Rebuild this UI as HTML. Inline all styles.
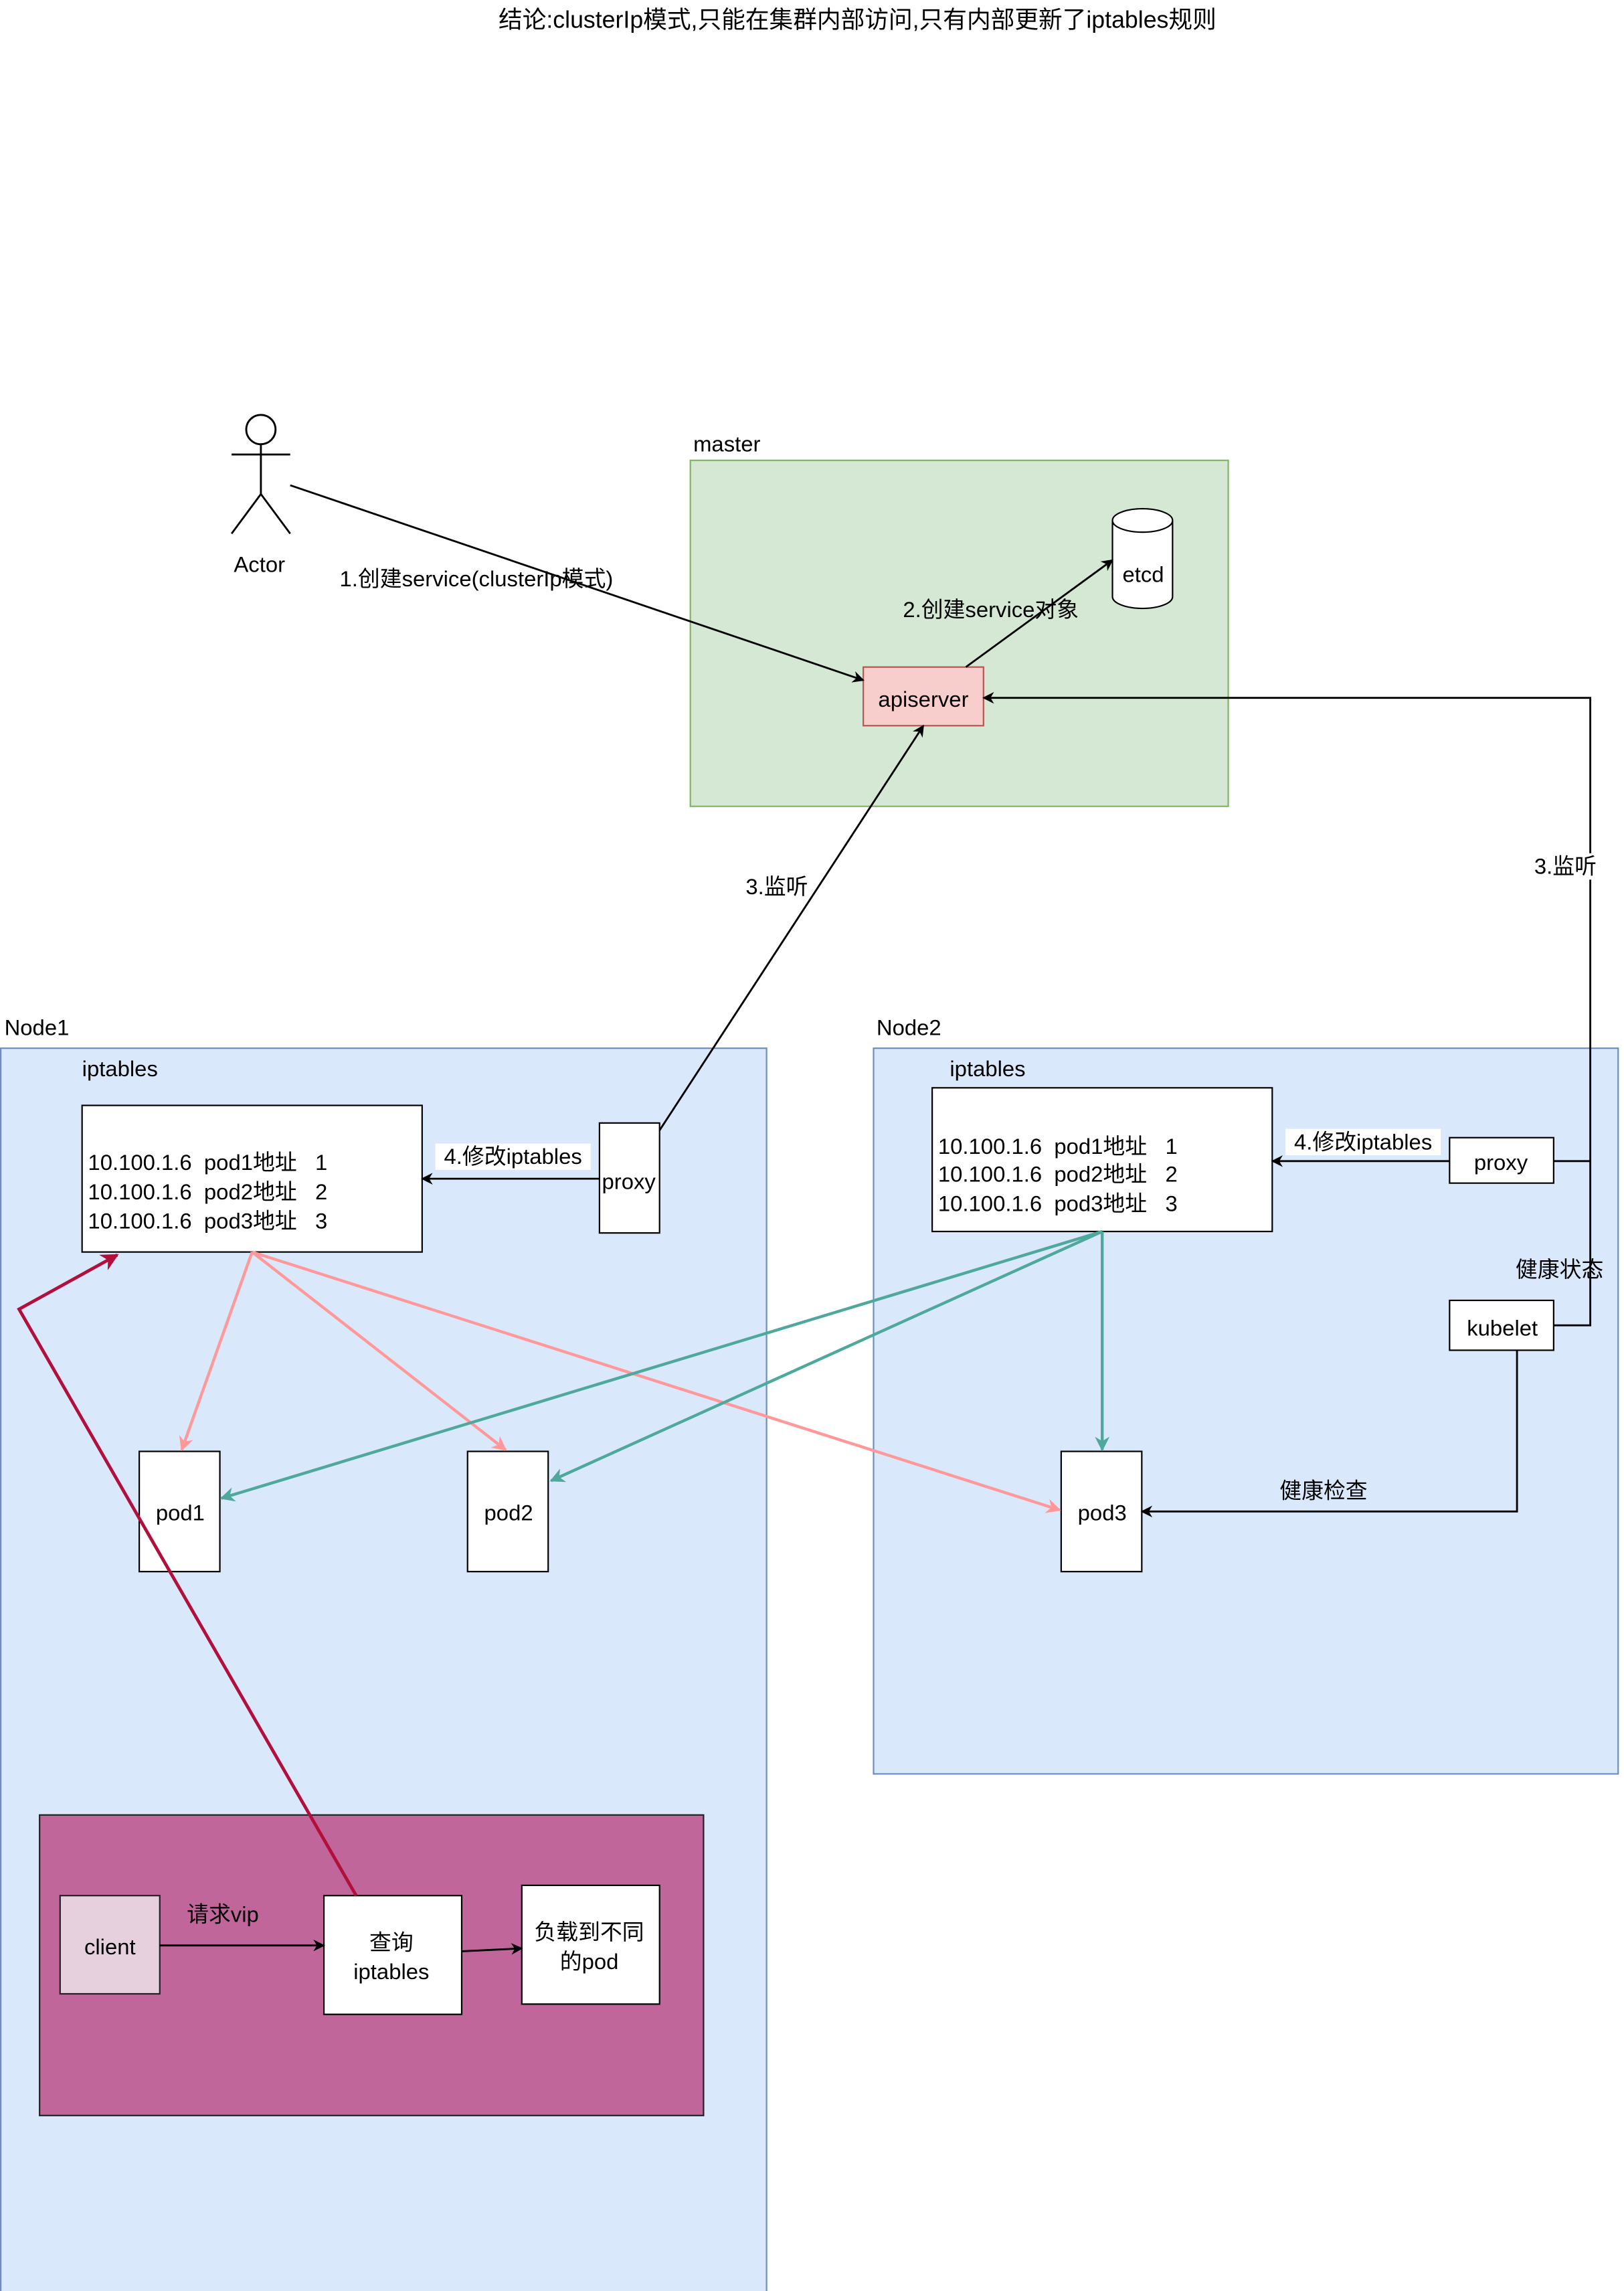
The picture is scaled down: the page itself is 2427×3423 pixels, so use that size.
<!DOCTYPE html>
<html><head><meta charset="utf-8"><style>html,body{margin:0;padding:0;background:#fff}svg{display:block}text{white-space:pre}</style></head>
<body>
<svg width="2427" height="3423" viewBox="0 0 1108 1562.7" xmlns="http://www.w3.org/2000/svg" font-family="'Liberation Sans','Noto Sans CJK SC',sans-serif" font-size="15">
<defs>
<marker id="ab" viewBox="0 0 10 10" refX="9" refY="5" markerWidth="8" markerHeight="8" markerUnits="userSpaceOnUse" orient="auto"><path d="M0,0 L10,5 L0,10 L3,5 z" fill="#000"/></marker>
<marker id="ap" viewBox="0 0 10 10" refX="9" refY="5" markerWidth="10" markerHeight="10" markerUnits="userSpaceOnUse" orient="auto"><path d="M0,0 L10,5 L0,10 L3,5 z" fill="#ff9999"/></marker>
<marker id="at" viewBox="0 0 10 10" refX="9" refY="5" markerWidth="10" markerHeight="10" markerUnits="userSpaceOnUse" orient="auto"><path d="M0,0 L10,5 L0,10 L3,5 z" fill="#4ea89c"/></marker>
<marker id="ar" viewBox="0 0 10 10" refX="9" refY="5" markerWidth="12" markerHeight="12" markerUnits="userSpaceOnUse" orient="auto"><path d="M0,0 L10,5 L0,10 L3,5 z" fill="#b20f3c"/></marker>
</defs>
<text x="585" y="19" text-anchor="middle" font-size="16.3">结论:clusterIp模式,只能在集群内部访问,只有内部更新了iptables规则</text>

<!-- Actor -->
<g stroke="#000" fill="none" stroke-width="1.3">
<circle cx="178" cy="293" r="10" fill="#fff"/>
<line x1="178" y1="303" x2="178" y2="337"/>
<line x1="158" y1="310" x2="198" y2="310"/>
<line x1="178" y1="337" x2="158" y2="364"/>
<line x1="178" y1="337" x2="198" y2="364"/>
</g>
<text x="177" y="390" text-anchor="middle">Actor</text>

<!-- master -->
<rect x="471" y="314" width="367" height="236" fill="#d5e8d4" stroke="#82b366"/>
<text x="473" y="308">master</text>
<path d="M759,355 L759,407 A20.5,8 0 0 0 800,407 L800,355 A20.5,8 0 0 0 759,355 A20.5,8 0 0 0 800,355" fill="#fff" stroke="#000"/>
<text x="780" y="397" text-anchor="middle">etcd</text>
<rect x="589" y="455" width="82" height="40" fill="#f8cecc" stroke="#b85450"/>
<text x="630" y="482" text-anchor="middle">apiserver</text>

<!-- Node1 -->
<rect x="0.5" y="715" width="522.5" height="852" fill="#dae8fc" stroke="#6c8ebf"/>
<text x="3" y="706">Node1</text>
<text x="56" y="734">iptables</text>
<rect x="56" y="754" width="232" height="100" fill="#fff" stroke="#000"/>
<text x="60" y="798">10.100.1.6  pod1地址   1</text>
<text x="60" y="818">10.100.1.6  pod2地址   2</text>
<text x="60" y="838">10.100.1.6  pod3地址   3</text>
<rect x="409" y="766" width="41" height="75" fill="#fff" stroke="#000"/>
<text x="429" y="811" text-anchor="middle">proxy</text>
<rect x="95" y="990" width="55" height="82" fill="#fff" stroke="#000"/>
<text x="123" y="1037" text-anchor="middle">pod1</text>
<rect x="319" y="990" width="55" height="82" fill="#fff" stroke="#000"/>
<text x="347" y="1037" text-anchor="middle">pod2</text>

<!-- Node2 -->
<rect x="596" y="715" width="508" height="495" fill="#dae8fc" stroke="#6c8ebf"/>
<text x="598" y="706">Node2</text>
<text x="648" y="734">iptables</text>
<rect x="636" y="742" width="232" height="98" fill="#fff" stroke="#000"/>
<text x="640" y="787">10.100.1.6  pod1地址   1</text>
<text x="640" y="806">10.100.1.6  pod2地址   2</text>
<text x="640" y="826">10.100.1.6  pod3地址   3</text>
<rect x="989" y="776" width="71" height="31" fill="#fff" stroke="#000"/>
<text x="1024" y="798" text-anchor="middle">proxy</text>
<rect x="989" y="887" width="71" height="34" fill="#fff" stroke="#000"/>
<text x="1025" y="911" text-anchor="middle">kubelet</text>
<rect x="724" y="990" width="55" height="82" fill="#fff" stroke="#000"/>
<text x="752" y="1037" text-anchor="middle">pod3</text>

<!-- client area -->
<rect x="27" y="1238" width="453" height="205" fill="#c1669b" stroke="#222"/>
<rect x="41" y="1293" width="68" height="67" fill="#e6d0de" stroke="#222"/>
<text x="75" y="1333" text-anchor="middle">client</text>
<rect x="221" y="1293" width="94" height="81" fill="#fff" stroke="#000"/>
<text x="267" y="1330" text-anchor="middle">查询</text>
<text x="267" y="1350" text-anchor="middle">iptables</text>
<rect x="356" y="1286" width="94" height="81" fill="#fff" stroke="#000"/>
<text x="402" y="1323" text-anchor="middle">负载到不同</text>
<text x="402" y="1343" text-anchor="middle">的pod</text>

<!-- black arrows -->
<g stroke="#000" stroke-width="1.3" fill="none">
<line x1="198" y1="331" x2="589" y2="464" marker-end="url(#ab)"/>
<line x1="659" y1="455" x2="759" y2="382" marker-end="url(#ab)"/>
<polyline points="1060,792 1085,792 1085,476 671,476" marker-end="url(#ab)"/>
<polyline points="1060,904 1085,904 1085,792"/>
<line x1="409" y1="804" x2="288" y2="804" marker-end="url(#ab)"/>
<line x1="450" y1="771" x2="630" y2="495" marker-end="url(#ab)"/>
<line x1="989" y1="792" x2="868" y2="792" marker-end="url(#ab)"/>
<polyline points="1035,921 1035,1031 779,1031" marker-end="url(#ab)"/>
<line x1="109" y1="1327" x2="221" y2="1327" marker-end="url(#ab)"/>
<line x1="315" y1="1331" x2="356" y2="1329" marker-end="url(#ab)"/>
</g>

<!-- pink -->
<g stroke="#ff9999" stroke-width="2" fill="none">
<line x1="172" y1="854" x2="124" y2="989" marker-end="url(#ap)"/>
<line x1="172" y1="854" x2="345" y2="989" marker-end="url(#ap)"/>
<line x1="172" y1="854" x2="723" y2="1030" marker-end="url(#ap)"/>
</g>
<!-- teal -->
<g stroke="#4ea89c" stroke-width="2" fill="none">
<line x1="752" y1="840" x2="151" y2="1022" marker-end="url(#at)"/>
<line x1="752" y1="840" x2="376" y2="1010" marker-end="url(#at)"/>
<line x1="752" y1="840" x2="752" y2="989" marker-end="url(#at)"/>
</g>
<!-- red -->
<polyline points="243,1293 13,893 80,856" stroke="#b20f3c" stroke-width="2.2" fill="none" marker-end="url(#ar)"/>

<!-- labels -->
<text x="325" y="400" text-anchor="middle">1.创建service(clusterIp模式)</text>
<text x="676" y="421" text-anchor="middle">2.创建service对象</text>
<rect x="1044" y="582" width="48" height="18" fill="#fff"/>
<text x="1068" y="596" text-anchor="middle">3.监听</text>
<text x="530" y="610" text-anchor="middle">3.监听</text>
<rect x="297" y="780" width="106" height="18" fill="#fff"/>
<text x="350" y="794" text-anchor="middle">4.修改iptables</text>
<rect x="877" y="770" width="106" height="18" fill="#fff"/>
<text x="930" y="784" text-anchor="middle">4.修改iptables</text>
<text x="1064" y="871" text-anchor="middle">健康状态</text>
<text x="903" y="1022" text-anchor="middle">健康检查</text>
<text x="152" y="1311" text-anchor="middle">请求vip</text>
</svg>
</body></html>
